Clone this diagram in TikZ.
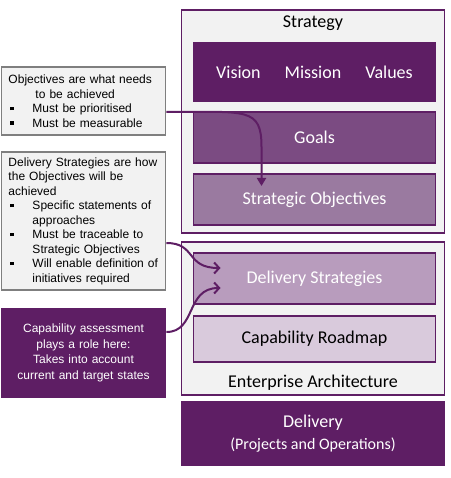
\documentclass[tikz,border=0pt]{standalone}
\usepackage{fontspec}
\setmainfont{Carlito}
\newfontfamily\arialfont{Liberation Sans}
\usepackage{tikz}
\usetikzlibrary{shapes,arrows.meta,positioning,calc}
\usepackage{xcolor}

\definecolor{plum}{HTML}{5E1E64}
\definecolor{goalcol}{HTML}{7B4B82}
\definecolor{objcol}{HTML}{9A7AA0}
\definecolor{dscol}{HTML}{B89CBD}
\definecolor{roadcol}{HTML}{D9CADC}
\definecolor{panel}{HTML}{F2F2F2}
\definecolor{edge}{HTML}{7F7F7F}

\newcommand{\sqbullet}{\makebox[24pt][l]{\hspace{2pt}\rule[2.5pt]{3.5pt}{3.5pt}}}
\newcommand{\indt}{\hspace*{24pt}}

\begin{document}
\begin{tikzpicture}[x=1pt, y=-1pt,
    frame/.style={rectangle, draw=plum, line width=1.8pt, fill=panel, minimum width=263pt},
    layer/.style={rectangle, draw=plum, line width=1.8pt, outer sep=0pt, minimum width=242pt, minimum height=51pt, text=white, font=\fontsize{18}{21}\selectfont},
    note/.style={rectangle, draw=edge, line width=1.8pt, fill=panel, minimum width=164pt, text width=150pt, align=left, inner sep=0pt, font=\arialfont\fontsize{12}{14.5}\selectfont},
    title/.style={font=\fontsize{18}{21}\selectfont},
    arrow/.style={-{Straight Barb[length=5pt,width=11pt]}, draw=plum, line width=2pt}
]
\useasboundingbox (0,0) rectangle (450,478);

% Strategy block
\node (strategy) [frame, minimum height=223pt] at (313,121.5) {};
\node (strattitle) [title] at ([yshift=-14.5pt]strategy.north) {Strategy};
\node (vmv) [layer, fill=plum, minimum height=58pt] at (314.5,72) {Vision\hspace{24pt}Mission\hspace{24pt}Values};
\node (goals) [layer, fill=goalcol, below=11pt of vmv] {Goals};
\node (stratobj) [layer, fill=objcol, below=11pt of goals] {Strategic Objectives};

% Enterprise Architecture block
\node (ea) [frame, minimum height=153pt] at (313,318.5) {};
\node (delstrat) [layer, fill=dscol] at (314.5,278.5) {Delivery Strategies};
\node (roadmap) [layer, fill=roadcol, text=black, minimum height=46pt, below=12pt of delstrat] {Capability Roadmap};
\node (eatitle) [title] at ([yshift=13pt]ea.south) {Enterprise Architecture};

% Delivery
\node (delivery) [frame, fill=plum, text=white, minimum height=63pt, align=center, font=\fontsize{18}{22}\selectfont] at (313,433.5) {Delivery\\{\fontsize{16}{22}\selectfont (Projects and Operations)}};

% Notes
\node (objnote) [note, minimum height=68pt] at (83.5,101) {Objectives are what needs\\ \hspace*{27pt}to be achieved\\ \sqbullet Must be prioritised\\ \sqbullet Must be measurable};
\node (dsnote) [note, minimum height=138pt] at (83.5,221) {Delivery Strategies are how\\ the Objectives will be\\ achieved\\ \sqbullet Specific statements of\\ \indt approaches\\ \sqbullet Must be traceable to\\ \indt Strategic Objectives\\ \sqbullet Will enable definition of\\ \indt initiatives required};
\node (capnote) [note, draw=plum, fill=plum, text=white, align=center, minimum height=88pt, font=\arialfont\fontsize{12}{15.5}\selectfont] at (83.5,353) {Capability assessment\\ plays a role here:\\ Takes into account\\ current and target states};

% Connections
\draw[arrow, -{Triangle[width=9pt,length=8pt]}] ([yshift=-11pt]objnote.east) .. controls +(80pt,0pt) and +(0pt,40pt) .. ([xshift=-53pt,yshift=27pt]stratobj.north) -- ([xshift=-53pt,yshift=-12pt]stratobj.north);
\draw[arrow] ([yshift=-22pt]dsnote.east) .. controls +(30pt,0pt) and +(-35pt,0pt) .. ([xshift=27pt,yshift=-15pt]delstrat.north west);
\draw[arrow] ([yshift=21pt]capnote.east) .. controls +(30pt,0pt) and +(-35pt,0pt) .. ([xshift=27pt,yshift=16pt]delstrat.south west);

\end{tikzpicture}
\end{document}
